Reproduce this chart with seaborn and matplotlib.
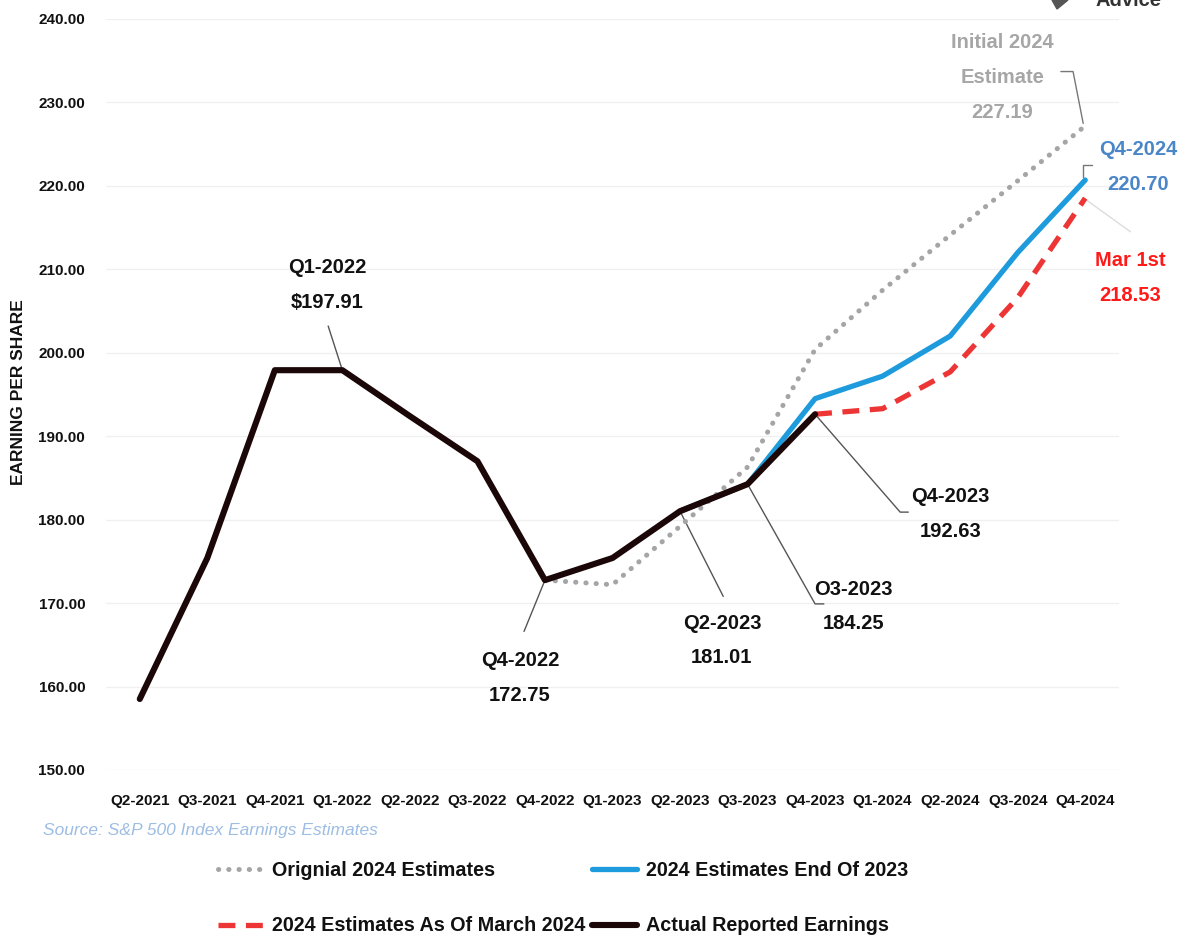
import numpy as np
import pandas as pd
import matplotlib
matplotlib.use("Agg")
import matplotlib.pyplot as plt
from matplotlib.patches import Polygon
import seaborn as sns

quarters = ["Q2-2021", "Q3-2021", "Q4-2021", "Q1-2022", "Q2-2022", "Q3-2022", "Q4-2022",
            "Q1-2023", "Q2-2023", "Q3-2023", "Q4-2023", "Q1-2024", "Q2-2024", "Q3-2024", "Q4-2024"]
nan = np.nan
original_2024 = [nan, nan, nan, nan, nan, nan, 172.75, 172.2, 179.2, 186.3, 200.4, 207.5, 214.1, 220.6, 227.19]
end_of_2023 = [nan, nan, nan, nan, nan, nan, nan, nan, 181.01, 184.25, 194.5, 197.2, 202.0, 212.0, 220.70]
march_2024 = [nan, nan, nan, nan, nan, nan, nan, nan, nan, nan, 192.63, 193.3, 197.7, 206.6, 218.53]
actual = [158.5, 175.4, 197.91, 197.91, 192.4, 187.0, 172.75, 175.4, 181.01, 184.25, 192.63,
          nan, nan, nan, nan]
y_ticks = [150, 160, 170, 180, 190, 200, 210, 220, 230, 240]

FONT = ["Liberation Sans", "DejaVu Sans"]

sns.set_theme(style="white")
plt.rcParams["font.family"] = FONT
plt.rcParams["font.weight"] = "bold"

fig = plt.figure(figsize=(11.87, 9.40), dpi=100)
ax = fig.add_axes([0.0893, 0.1809, 0.8534, 0.7989])

x_idx = np.arange(len(quarters))
df = pd.DataFrame({"x": x_idx, "orig": original_2024, "end23": end_of_2023,
                   "mar24": march_2024, "actual": actual})

c_gray = "#a5a5a5"
c_blue = "#1e9bdc"
c_red = "#ee3535"
c_black = "#1b0707"

sns.lineplot(data=df, x="x", y="orig", ax=ax, color=c_gray, linewidth=3.6,
             linestyle=(0, (0.05, 2.0)), dash_capstyle="round", label="Orignial 2024 Estimates")
sns.lineplot(data=df, x="x", y="mar24", ax=ax, color=c_red, linewidth=3.8,
             linestyle=(0, (3.2, 2.0)), dash_capstyle="butt", solid_joinstyle="round",
             label="2024 Estimates As Of March 2024")
sns.lineplot(data=df, x="x", y="end23", ax=ax, color=c_blue, linewidth=3.8,
             solid_joinstyle="round", label="2024 Estimates End Of 2023")
sns.lineplot(data=df, x="x", y="actual", ax=ax, color=c_black, linewidth=4.4,
             solid_joinstyle="round", label="Actual Reported Earnings")

ax.set_xlim(-0.5, len(quarters) - 0.5)
ax.set_ylim(150, 240)
ax.set_yticks(y_ticks)
ax.set_yticklabels([f"{v:.2f}" for v in y_ticks])
ax.set_xticks(x_idx)
ax.set_xticklabels(quarters)
ax.tick_params(axis="y", labelsize=11, pad=15, length=0)
ax.tick_params(axis="x", labelsize=11, pad=17, length=0)
for lab in ax.get_xticklabels() + ax.get_yticklabels():
    lab.set_fontweight("bold")
    lab.set_color("#111111")
ax.yaxis.grid(True, color="#f0f0f0", linewidth=1)
ax.xaxis.grid(False)
for s in ax.spines.values():
    s.set_visible(False)
ax.set_xlabel("")
ax.set_ylabel("")
ax.get_legend().remove()

fig.text(19 / 1187, 1 - 392 / 940, "EARNING PER SHARE", rotation=90, ha="center", va="center",
         fontsize=12.5, fontweight="bold", color="#111111")

# annotations
ann_fs = 14.5
def label(x, y, txt, color="#111111"):
    ax.text(x, y, txt, ha="center", va="center", fontsize=ann_fs, fontweight="bold",
            color=color, linespacing=2.05, clip_on=False)

def leader(pts, color="#555555", lw=1.0):
    xs, ys = zip(*pts)
    ax.plot(xs, ys, color=color, linewidth=lw, clip_on=False, zorder=1)

i_q1_22 = quarters.index("Q1-2022")
label(2.77, 208.1, "Q1-2022\n$197.91")
leader([(2.79, 203.2), (i_q1_22, actual[i_q1_22])])

i_q4_22 = quarters.index("Q4-2022")
label(5.63, 161.0, "Q4-2022\n172.75")
leader([(5.69, 166.6), (i_q4_22, actual[i_q4_22])])

i_q2_23 = quarters.index("Q2-2023")
label(8.62, 165.5, "Q2-2023\n181.01")
leader([(8.64, 170.8), (i_q2_23, actual[i_q2_23])])

i_q3_23 = quarters.index("Q3-2023")
label(10.57, 169.6, "O3-2023\n184.25")
leader([(i_q3_23, actual[i_q3_23]), (10.0, 169.9), (10.13, 169.9)])

i_q4_23 = quarters.index("Q4-2023")
label(12.0, 180.7, "Q4-2023\n192.63")
leader([(i_q4_23, actual[i_q4_23]), (11.26, 180.9), (11.38, 180.9)])

i_q4_24 = quarters.index("Q4-2024")
label(12.77, 233.0, "Initial 2024\nEstimate\n227.19", color="#a6a6a6")
leader([(i_q4_24 - 0.03, original_2024[i_q4_24] + 0.3), (13.82, 233.7), (13.64, 233.7)], color="#777777")

label(14.78, 222.3, "Q4-2024\n220.70", color="#4a86c8")
leader([(i_q4_24 - 0.03, end_of_2023[i_q4_24] + 0.4), (13.97, 222.5), (14.1, 222.5)], color="#777777")

label(14.67, 209.0, "Mar 1st\n218.53", color="#ff1a1a")
leader([(i_q4_24 + 0.03, march_2024[i_q4_24] - 0.3), (14.67, 214.5)], color="#dddddd")

# source
fig.text(378 / 1187, 1 - 830 / 940, "Source: S&P 500 Index Earnings Estimates", ha="right",
         va="center", fontsize=12.5, style="italic", fontweight="normal", color="#9dbde3")

# legend
handles, labels = ax.get_legend_handles_labels()
order = ["Orignial 2024 Estimates", "2024 Estimates As Of March 2024",
         "2024 Estimates End Of 2023", "Actual Reported Earnings"]
hmap = dict(zip(labels, handles))
leg = fig.legend([hmap[k] for k in order], order, loc="upper left",
                 bbox_to_anchor=(218 / 1187, 1 - 861 / 940), ncol=2, frameon=False,
                 fontsize=14.2, handlelength=2.3, handletextpad=0.45, columnspacing=0.3,
                 labelspacing=1.85, borderpad=0, borderaxespad=0)
for t in leg.get_texts():
    t.set_fontweight("bold")
    t.set_color("#111111")

# logo fragment
fig.text(1096 / 1187, 1 - 1 / 940, "Advice", ha="left", va="center", fontsize=14.5,
         fontweight="bold", color="#333333")
fig.add_artist(Polygon([[1052 / 1187, 1.0], [1068 / 1187, 1.0], [1057 / 1187, 1 - 9 / 940]],
                       closed=True, transform=fig.transFigure, color="#555555"))

fig.savefig("out.png", dpi=100)
